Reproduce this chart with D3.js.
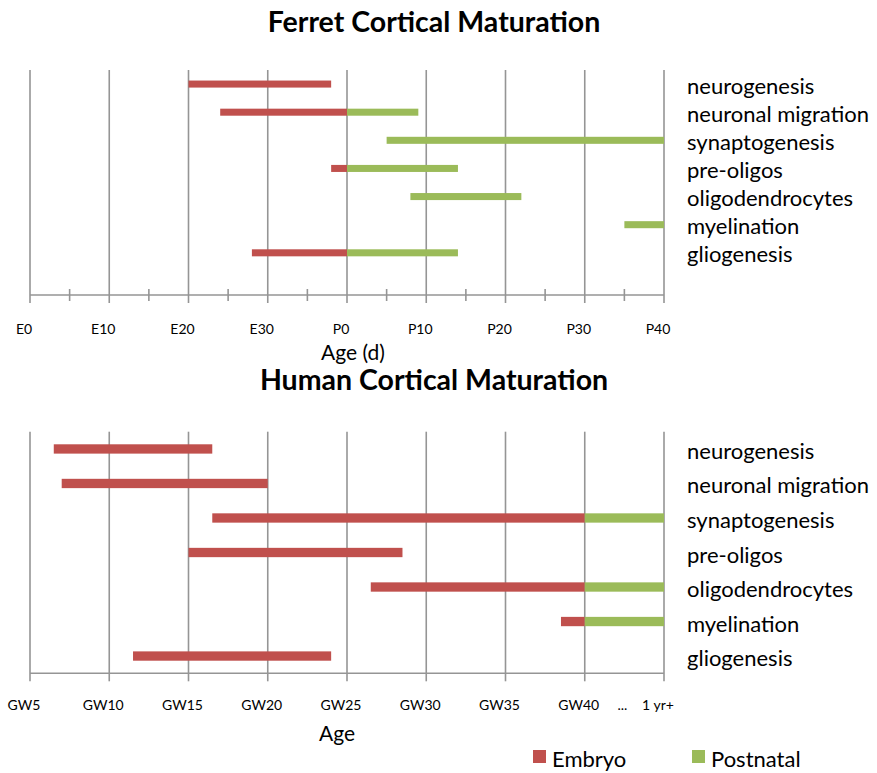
<!DOCTYPE html>
<html>
<head>
<meta charset="utf-8">
<script src="https://cdn.jsdelivr.net/npm/d3@7"></script>
<style>
  body { margin: 0; background: #fff; }
  svg { display: block; font-family: Lato, "Open Sans", sans-serif; }
</style>
</head>
<body>
<svg id="chart" width="877" height="773"></svg>
<script>
// ---------- DATA ----------
const categories = ["neurogenesis", "neuronal migration", "synaptogenesis", "pre-oligos", "oligodendrocytes", "myelination", "gliogenesis"];

// Ferret: days from E0 (P0 = 40)
const ferretEmbryo    = [[20, 38], [24, 40], null, [38, 40], null, null, [28, 40]];
const ferretPostnatal = [null, [40, 49], [45, 80], [40, 54], [48, 62], [75, 80], [40, 54]];
const ferretTickValues = [0, 10, 20, 30, 40, 50, 60, 70, 80];
const ferretTickLabels = ["E0", "E10", "E20", "E30", "P0", "P10", "P20", "P30", "P40"];
const ferretMinorTicks = [5, 15, 25, 35, 45, 55, 65, 75];

// Human: gestational weeks (45 = "1 yr+")
const humanEmbryo    = [[6.5, 16.5], [7, 20], [16.5, 40], [15, 28.5], [26.5, 40], [38.5, 40], [11.5, 24]];
const humanPostnatal = [null, null, [40, 45], null, [40, 45], [40, 45], null];
const humanTickValues = [5, 10, 15, 20, 25, 30, 35, 40, 45];
const humanTickLabels = ["GW5", "GW10", "GW15", "GW20", "GW25", "GW30", "GW35", "GW40", "1 yr+"];
const humanGapLabel = { value: 42.5, label: "..." };

const seriesNames = ["Embryo", "Postnatal"];
const colors = { Embryo: "#C0504D", Postnatal: "#9BBB59" };

// ---------- DRAW ----------
const svg = d3.select("#chart");
const gridColor = "#959595";

function drawPanel(cfg) {
  const g = svg.append("g");
  const x = d3.scaleLinear().domain(cfg.domain).range([30, 664]);
  const step = (cfg.bottom - cfg.top) / cfg.slots;
  const y = d3.scaleBand().domain(categories)
    .range([cfg.top, cfg.top + step * categories.length]).paddingInner(0).paddingOuter(0);
  const barH = y.bandwidth() * cfg.barFrac;

  // title
  g.append("text").attr("x", 434).attr("y", cfg.titleY)
    .attr("text-anchor", "middle").attr("font-weight", "bold")
    .attr("font-size", 28.5).attr("fill", "#000").text(cfg.title);

  // vertical gridlines
  g.selectAll(".grid").data(cfg.ticks).enter().append("line")
    .attr("x1", d => x(d)).attr("x2", d => x(d))
    .attr("y1", cfg.top).attr("y2", cfg.bottom + 8)
    .attr("stroke", gridColor).attr("stroke-width", 1.6);

  // minor ticks
  if (cfg.minor) {
    g.selectAll(".minor").data(cfg.minor).enter().append("line")
      .attr("x1", d => x(d)).attr("x2", d => x(d))
      .attr("y1", cfg.bottom - 6).attr("y2", cfg.bottom + 6)
      .attr("stroke", gridColor).attr("stroke-width", 1.6);
  }

  // axis line
  g.append("line").attr("x1", x(cfg.domain[0])).attr("x2", x(cfg.domain[1]))
    .attr("y1", cfg.bottom).attr("y2", cfg.bottom)
    .attr("stroke", gridColor).attr("stroke-width", 1.6);

  // tick labels
  g.selectAll(".tl").data(cfg.ticks).enter().append("text")
    .attr("x", d => x(d) - 6).attr("y", cfg.tickY)
    .attr("text-anchor", "middle").attr("font-size", 14).attr("fill", "#000")
    .text((d, i) => cfg.tickLabels[i]);
  if (cfg.gap) {
    g.append("text").attr("x", x(cfg.gap.value) - 2).attr("y", cfg.tickY)
      .attr("text-anchor", "middle").attr("font-size", 14).attr("fill", "#000")
      .text(cfg.gap.label);
  }

  // axis title
  g.append("text").attr("x", cfg.axisTitleX).attr("y", cfg.axisTitleY)
    .attr("text-anchor", "middle").attr("font-size", 21).attr("fill", "#000")
    .text(cfg.axisTitle);

  // bars
  const drawSeries = (arr, name) => {
    g.selectAll(".bar-" + name).data(categories.map((c, i) => ({ c, r: arr[i] })).filter(d => d.r))
      .enter().append("rect")
      .attr("x", d => x(d.r[0]))
      .attr("width", d => x(d.r[1]) - x(d.r[0]))
      .attr("y", d => y(d.c) + y.bandwidth() / 2 - barH / 2)
      .attr("height", barH)
      .attr("fill", colors[name]);
  };
  drawSeries(cfg.embryo, "Embryo");
  drawSeries(cfg.postnatal, "Postnatal");

  // category labels
  g.selectAll(".cat").data(categories).enter().append("text")
    .attr("x", 687).attr("y", d => y(d) + y.bandwidth() / 2 + cfg.labelDy)
    .attr("font-size", 22).attr("fill", "#000").text(d => d);
}

drawPanel({
  title: "Ferret Cortical Maturation", titleY: 32,
  domain: [0, 80], top: 70, bottom: 295, slots: 8, barFrac: 0.25,
  ticks: ferretTickValues, tickLabels: ferretTickLabels, minor: ferretMinorTicks,
  tickY: 334, axisTitle: "Age (d)", axisTitleX: 353, axisTitleY: 360,
  embryo: ferretEmbryo, postnatal: ferretPostnatal, labelDy: 9.5
});

drawPanel({
  title: "Human Cortical Maturation", titleY: 390,
  domain: [5, 45], top: 431.7, bottom: 673.3, slots: 7, barFrac: 0.27,
  ticks: humanTickValues, tickLabels: humanTickLabels, gap: humanGapLabel,
  tickY: 710, axisTitle: "Age", axisTitleX: 337, axisTitleY: 741,
  embryo: humanEmbryo, postnatal: humanPostnatal, labelDy: 10
});

// legend
const legendX = [533, 692];
const lg = svg.append("g");
seriesNames.forEach((s, i) => {
  lg.append("rect").attr("x", legendX[i]).attr("y", 750).attr("width", 13).attr("height", 13)
    .attr("fill", colors[s]);
  lg.append("text").attr("x", legendX[i] + 19).attr("y", 767)
    .attr("font-size", 22).attr("fill", "#000").text(s);
});
</script>
</body>
</html>
